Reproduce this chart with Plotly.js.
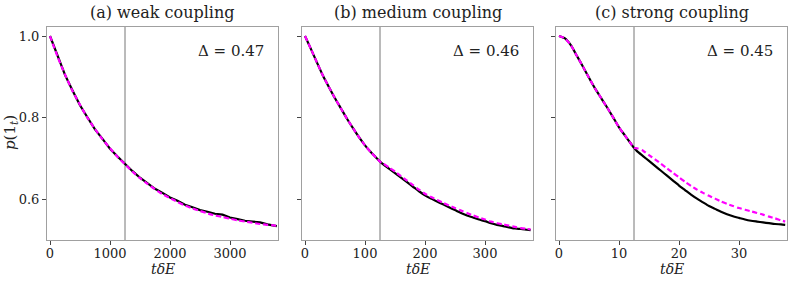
<!DOCTYPE html>
<html>
<head>
<meta charset="utf-8">
<script src="https://cdn.plot.ly/plotly-3.0.1.min.js"></script>
<style>html,body{margin:0;padding:0;background:#fff;}#chart{width:789px;height:281px;}</style>
</head>
<body>
<div id="chart"></div>
<script>
// ---------- data ----------
const titles = ["(a) weak coupling", "(b) medium coupling", "(c) strong coupling"];
const deltas = ["Δ = 0.47", "Δ = 0.46", "Δ = 0.45"];
const xLabel = "<i>tδE</i>";
const yLabel = "<i>p</i>(1<sub><i>t</i></sub>)";
const cutTimes = [1250, 125, 12.5];

const yTickVals = [0.6, 0.8, 1.0];
const yTickText = ["0.6", "0.8", "1.0"];
const xTickValsA = [0, 1000, 2000, 3000];
const xTickValsB = [0, 100, 200, 300];
const xTickValsC = [0, 10, 20, 30];

// panel (a)
const tA = [0,125,250,375,500,625,750,875,1000,1125,1250,1375,1500,1625,1750,1875,2000,2125,2250,2375,2500,2625,2750,2875,3000,3125,3250,3375,3500,3625,3750,3780];
const exactA = [1.000,0.951,0.905,0.867,0.831,0.801,0.772,0.749,0.725,0.706,0.687,0.670,0.654,0.641,0.627,0.617,0.606,0.598,0.588,0.582,0.575,0.571,0.566,0.564,0.557,0.553,0.549,0.547,0.545,0.540,0.537,0.536];
const modelA = [1.000,0.950,0.906,0.866,0.832,0.800,0.773,0.748,0.726,0.705,0.687,0.669,0.653,0.639,0.626,0.614,0.604,0.595,0.586,0.579,0.573,0.567,0.562,0.558,0.554,0.550,0.547,0.544,0.541,0.539,0.537,0.536];

// panel (b)
const tB = [0,10,20,30,40,50,60,70,80,90,100,110,120,126,130,140,150,160,170,180,190,200,210,220,230,240,250,260,270,280,290,300,310,320,330,340,350,360,370,376];
const exactB = [1.000,0.968,0.935,0.903,0.875,0.848,0.823,0.798,0.775,0.753,0.733,0.716,0.701,0.692,0.687,0.676,0.665,0.654,0.643,0.632,0.621,0.611,0.603,0.596,0.589,0.582,0.575,0.568,0.562,0.557,0.552,0.548,0.543,0.539,0.536,0.533,0.530,0.529,0.527,0.526];
const modelB = [1.000,0.968,0.935,0.903,0.875,0.848,0.823,0.798,0.775,0.753,0.733,0.716,0.701,0.692,0.689,0.679,0.669,0.658,0.647,0.636,0.625,0.615,0.607,0.600,0.593,0.586,0.580,0.574,0.568,0.562,0.557,0.552,0.547,0.543,0.540,0.537,0.534,0.531,0.529,0.528];

// panel (c)
const tC = [0,1,2,3,4,5,6,7,8,9,10,11,12,12.5,13,14,15,16,17,18,19,20,21,22,23,24,25,26,27,28,29,30,31,32,33,34,35,36,37,37.7];
const exactC = [1.000,0.994,0.977,0.951,0.925,0.898,0.872,0.849,0.826,0.802,0.777,0.757,0.737,0.727,0.719,0.707,0.695,0.683,0.671,0.659,0.647,0.635,0.624,0.613,0.603,0.594,0.585,0.578,0.571,0.565,0.560,0.556,0.552,0.549,0.547,0.545,0.543,0.541,0.540,0.539];
const modelC = [1.000,0.994,0.977,0.951,0.925,0.898,0.872,0.849,0.826,0.802,0.777,0.757,0.737,0.727,0.726,0.720,0.709,0.699,0.688,0.677,0.666,0.655,0.644,0.634,0.625,0.617,0.610,0.603,0.596,0.590,0.585,0.580,0.576,0.572,0.568,0.564,0.559,0.555,0.550,0.547];

// ---------- plot ----------
const FONT = "DejaVu Serif";
const GRAY = "#a0a0a0";
const TXT = "#222";
const panels = [
  {t: tA, e: exactA, m: modelA, ticks: xTickValsA, range: [-50, 3800]},
  {t: tB, e: exactB, m: modelB, ticks: xTickValsB, range: [-5, 380]},
  {t: tC, e: exactC, m: modelC, ticks: xTickValsC, range: [-0.5, 38]}
];
const W = 789, H = 281;
const xDom = [[47/W, 278/W], [302/W, 533/W], [556/W, 787/W]];
const yDom = [1 - 240/H, 1 - 27/H];

const traces = [];
const layout = {
  width: W, height: H,
  margin: {l: 0, r: 0, t: 0, b: 0},
  paper_bgcolor: "#fff", plot_bgcolor: "#fff",
  showlegend: false,
  font: {family: FONT, size: 13, color: TXT},
  shapes: [], annotations: []
};

panels.forEach((p, i) => {
  const sfx = i === 0 ? "" : String(i + 1);
  const xa = "x" + sfx, ya = "y" + sfx;
  traces.push({x: p.t, y: p.e, xaxis: xa, yaxis: ya, type: "scatter", mode: "lines",
    line: {color: "#000", width: 2.2, shape: i === 0 ? "linear" : "spline", smoothing: 0.6}, hoverinfo: "skip"});
  traces.push({x: p.t, y: p.m, xaxis: xa, yaxis: ya, type: "scatter", mode: "lines",
    line: {color: "#ff00ff", width: 2.2, dash: "5px,3px", shape: "spline", smoothing: 0.6}, hoverinfo: "skip"});

  layout["xaxis" + sfx] = {
    domain: xDom[i], anchor: ya, range: p.range,
    showgrid: false, zeroline: false,
    showline: true, mirror: true, linecolor: GRAY, linewidth: 1,
    ticks: "outside", ticklen: 4, tickcolor: "#444", tickwidth: 1,
    tickvals: p.ticks, ticktext: p.ticks.map(String),
    ticklabelstandoff: -3,
    tickfont: {family: FONT, size: 13, color: TXT}
  };
  layout["yaxis" + sfx] = {
    domain: yDom, anchor: xa, range: [0.502, 1.022],
    showgrid: false, zeroline: false,
    showline: true, mirror: true, linecolor: GRAY, linewidth: 1,
    ticks: "outside", ticklen: 4, tickcolor: "#444", tickwidth: 1,
    tickvals: yTickVals, ticktext: yTickText, showticklabels: i === 0,
    tickfont: {family: FONT, size: 13, color: TXT}
  };
  layout.shapes.push({type: "line", xref: xa, yref: ya + " domain",
    x0: cutTimes[i], x1: cutTimes[i], y0: 0, y1: 1,
    line: {color: "#777", width: 1}, layer: "below"});
  layout.annotations.push({xref: xa + " domain", yref: "paper",
    x: 0.5, y: 1 - 13/H, text: titles[i], showarrow: false,
    xanchor: "center", yanchor: "middle",
    font: {family: FONT, size: 16, color: TXT}});
  layout.annotations.push({xref: xa + " domain", yref: ya + " domain",
    x: 0.95, y: 0.885, text: deltas[i], showarrow: false,
    xanchor: "right", yanchor: "middle",
    font: {family: FONT, size: 15, color: TXT}});
  layout.annotations.push({xref: xa + " domain", yref: "paper",
    x: 0.5, y: 1 - 269/H, text: xLabel, showarrow: false,
    xanchor: "center", yanchor: "middle",
    font: {family: FONT, size: 14, color: TXT}});
});
layout.annotations.push({xref: "paper", yref: "paper",
  x: 11/W, y: 1 - 133/H, text: yLabel, showarrow: false, textangle: -90,
  xanchor: "center", yanchor: "middle",
  font: {family: FONT, size: 15, color: TXT}});

Plotly.newPlot("chart", traces, layout, {staticPlot: true, displayModeBar: false});
</script>
</body>
</html>
